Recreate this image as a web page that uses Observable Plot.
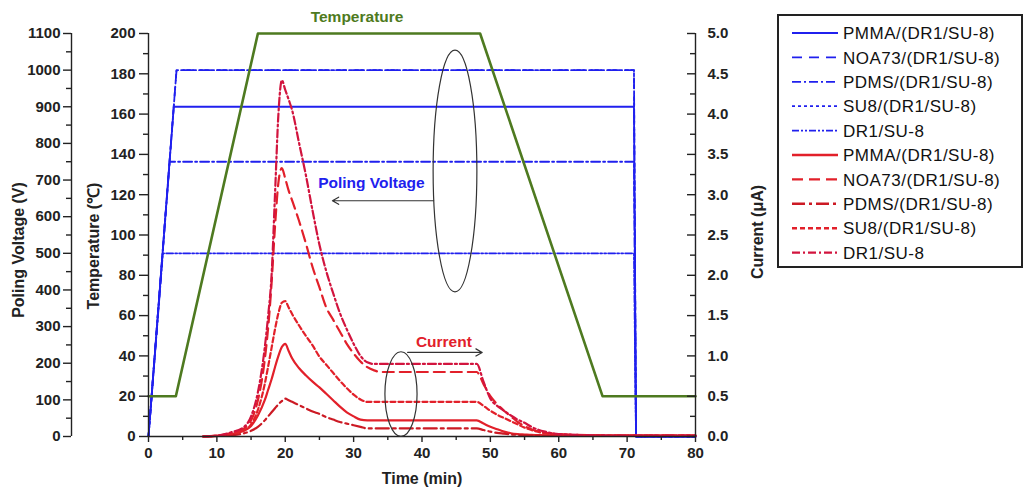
<!DOCTYPE html>
<html>
<head>
<meta charset="utf-8">
<script src="https://cdn.jsdelivr.net/npm/d3@7"></script>
<script src="https://cdn.jsdelivr.net/npm/@observablehq/plot@0.6"></script>
<style>
  html, body { margin: 0; padding: 0; background: #fff; }
  #wrap { position: relative; width: 1027px; height: 496px; font-family: "Liberation Sans", Arial, sans-serif; }
  #chart { position: absolute; left: 0; top: 0; }
  #legend { position: absolute; left: 777px; top: 14px; }
</style>
</head>
<body>
<div id="wrap"><div id="chart"></div><div id="legend"></div></div>
<script>
// ---------- data ----------
const seriesNames = ["PMMA/(DR1/SU-8)", "NOA73/(DR1/SU-8)", "PDMS/(DR1/SU-8)", "SU8/(DR1/SU-8)", "DR1/SU-8"];

// poling voltage (V)
const voltageLevels = [900, 1000, 750, 1000, 500];
const voltageRampEnd = [3.7, 4.1, 3.1, 4.1, 2.1];   // min
const voltageOff = [71, 71.3];                      // min (switch-off)
const timeEnd = 80;

// temperature (°C)
const tempTime = [0, 4, 16, 48.5, 66.4, 80];
const tempValue = [20, 20, 200, 200, 20, 20];

// current (µA)
const currentTime = [8, 10, 12, 14, 15, 16, 17, 17.5, 18, 18.5, 19, 19.5, 20, 20.5, 21, 22, 23, 24, 25, 26, 27, 28, 29, 30, 31, 32, 33, 34, 40, 48, 49, 50, 51, 52, 53, 54, 55, 56, 58, 60, 65, 70, 80];
const currentPMMA = [0, 0.01, 0.03, 0.07, 0.13, 0.26, 0.45, 0.58, 0.71, 0.86, 1.0, 1.11, 1.15, 1.06, 0.97, 0.85, 0.76, 0.68, 0.61, 0.53, 0.45, 0.37, 0.3, 0.25, 0.21, 0.2, 0.2, 0.2, 0.2, 0.2, 0.16, 0.12, 0.09, 0.06, 0.04, 0.03, 0.025, 0.02, 0.015, 0.01, 0.01, 0.01, 0.01];
const currentNOA73 = [0, 0.01, 0.04, 0.1, 0.2, 0.45, 0.95, 1.35, 1.9, 2.6, 3.15, 3.33, 3.2, 3.05, 2.93, 2.68, 2.4, 2.1, 1.85, 1.6, 1.45, 1.3, 1.15, 1.03, 0.93, 0.86, 0.82, 0.8, 0.8, 0.8, 0.65, 0.5, 0.4, 0.32, 0.25, 0.18, 0.13, 0.09, 0.05, 0.03, 0.015, 0.01, 0.01];
const currentPDMS = [0, 0.005, 0.015, 0.04, 0.07, 0.12, 0.2, 0.25, 0.3, 0.35, 0.4, 0.44, 0.47, 0.45, 0.43, 0.39, 0.35, 0.31, 0.28, 0.24, 0.21, 0.18, 0.16, 0.14, 0.12, 0.1, 0.1, 0.1, 0.1, 0.1, 0.08, 0.06, 0.045, 0.035, 0.025, 0.02, 0.015, 0.012, 0.01, 0.01, 0.01, 0.01, 0.01];
const currentSU8 = [0, 0.01, 0.03, 0.08, 0.15, 0.33, 0.65, 0.87, 1.1, 1.33, 1.53, 1.66, 1.68, 1.6, 1.52, 1.38, 1.25, 1.13, 0.99, 0.89, 0.79, 0.69, 0.6, 0.52, 0.46, 0.43, 0.43, 0.43, 0.43, 0.43, 0.38, 0.32, 0.27, 0.23, 0.19, 0.15, 0.11, 0.08, 0.04, 0.02, 0.01, 0.01, 0.01];
const currentDR1 = [0, 0.01, 0.05, 0.12, 0.25, 0.55, 1.1, 1.5, 2.0, 3.0, 4.0, 4.42, 4.3, 4.18, 4.05, 3.65, 3.25, 2.8, 2.38, 2.05, 1.78, 1.53, 1.33, 1.15, 1.0, 0.92, 0.9, 0.9, 0.9, 0.9, 0.68, 0.47, 0.38, 0.32, 0.26, 0.21, 0.17, 0.12, 0.06, 0.03, 0.015, 0.01, 0.01];
const currentSeries = [currentPMMA, currentNOA73, currentPDMS, currentSU8, currentDR1];

// tick labels
const timeTicks = [0, 10, 20, 30, 40, 50, 60, 70, 80];
const timeMinor = [5, 15, 25, 35, 45, 55, 65, 75];
const tempTicks = [0, 20, 40, 60, 80, 100, 120, 140, 160, 180, 200];
const tempMinor = [10, 30, 50, 70, 90, 110, 130, 150, 170, 190];
const voltTicks = [0, 100, 200, 300, 400, 500, 600, 700, 800, 900, 1000, 1100];
const voltMinor = [50, 150, 250, 350, 450, 550, 650, 750, 850, 950, 1050];
const currentTicks = [0, 0.5, 1, 1.5, 2, 2.5, 3, 3.5, 4, 4.5, 5];
const currentMinor = [0.25, 0.75, 1.25, 1.75, 2.25, 2.75, 3.25, 3.75, 4.25, 4.75];

// annotations
const annotLabels = [
  {text: "Temperature", t: 30.5, y: 208, color: "green"},
  {text: "Poling Voltage", t: 32.6, y: 126, color: "blue"},
  {text: "Current", t: 43.2, y: 47, color: "red"}
];
const annotEllipses = [{t: 44.9, y: 131.5, rt: 3.2, ry: 60}, {t: 37.0, y: 20.8, rt: 2.35, ry: 21}];
const annotArrows = [{t1: 41.7, t2: 26.9, y: 117}, {t1: 37.9, t2: 48.8, y: 41.7}];

// ---------- styles ----------
const BLUE = "#2020ee", GREEN = "#4e7a20", RED = "#e2202a", CRIMSON = "#d2143e", DARKRED = "#cc1a24";
const colorOf = {green: GREEN, blue: BLUE, red: RED};
const blueDash = [null, "10,7", "9,3,2,3", "3,3", "7,2,2,2,2,2"];
const redDash = [null, "11,6", "13,4,3,4", "5,3", "8,3,2,3"];
const redColors = [RED, RED, DARKRED, RED, CRIMSON];

// map secondary units onto the temperature scale (0–200)
const V2 = v => v * 200 / 1100;
const C2 = c => c * 40;

const FONT = "Liberation Sans, Arial, sans-serif";
const marks = [];

// blue voltage lines
voltageLevels.forEach((v, i) => {
  const pts = [
    {t: 0, v: 0}, {t: voltageRampEnd[i], v}, {t: voltageOff[0], v},
    {t: voltageOff[1], v: 0}, {t: timeEnd, v: 0}
  ];
  marks.push(Plot.line(pts, {x: "t", y: d => V2(d.v), stroke: BLUE, strokeWidth: 1.8, strokeDasharray: blueDash[i]}));
});

// green temperature
marks.push(Plot.line(tempTime, {x: tempTime, y: tempValue, stroke: GREEN, strokeWidth: 2.6}));

// red current curves
currentSeries.forEach((arr, i) => {
  marks.push(Plot.line(currentTime, {x: currentTime, y: arr.map(C2), stroke: redColors[i], strokeWidth: 2.2, strokeDasharray: redDash[i], curve: "monotone-x"}));
});

// axis lines
marks.push(
  Plot.ruleX([0], {y1: 0, y2: 200, stroke: "#222", strokeWidth: 1.4}),
  Plot.ruleX([80], {y1: 0, y2: 200, stroke: "#222", strokeWidth: 1.4}),
  Plot.ruleX([0], {y1: 0, y2: 200, dx: -77, stroke: "#222", strokeWidth: 1.4}),
  Plot.ruleY([0], {stroke: "#222", strokeWidth: 1.4})
);

const tickText = {fontSize: 15, fontWeight: "bold", fontFamily: FONT, fill: "#222", stroke: "#222", strokeWidth: 1.4, label: null};
// temperature axis
marks.push(Plot.axisY(tempTicks, {...tickText, anchor: "left", tickSize: 9, tickPadding: 4}));
marks.push(Plot.axisY(tempMinor, {anchor: "left", tickSize: 5, fill: "none", stroke: "#222", strokeWidth: 1.4, label: null}));
// voltage axis
marks.push(Plot.axisY(voltTicks.map(V2), {...tickText, anchor: "left", dx: -77, tickSize: 8, tickPadding: 3, tickFormat: d => String(Math.round(d * 1100 / 200))}));
marks.push(Plot.axisY(voltMinor.map(V2), {anchor: "left", dx: -77, tickSize: 5, fill: "none", stroke: "#222", strokeWidth: 1.4, label: null}));
// current axis (ticks point inward)
marks.push(Plot.axisY(currentTicks.map(C2), {anchor: "left", dx: 547, tickSize: 8, fill: "none", stroke: "#222", strokeWidth: 1.4, label: null}));
marks.push(Plot.axisY(currentMinor.map(C2), {anchor: "left", dx: 547, tickSize: 5, fill: "none", stroke: "#222", strokeWidth: 1.4, label: null}));
marks.push(Plot.axisY(currentTicks.map(C2), {...tickText, anchor: "right", tickSize: 0, tickPadding: 12, tickFormat: d => (d / 40).toFixed(1)}));
// time axis
marks.push(Plot.axisX(timeTicks, {...tickText, anchor: "bottom", tickSize: 6, tickPadding: 5}));
marks.push(Plot.axisX(timeMinor, {anchor: "bottom", tickSize: 4, fill: "none", stroke: "#222", strokeWidth: 1.4, label: null}));

// axis titles
const titleOpts = {fontSize: 16, fontWeight: "bold", fontFamily: FONT, fill: "#222", textAnchor: "middle"};
marks.push(
  Plot.text(["Poling Voltage (V)"], {...titleOpts, frameAnchor: "left", dx: -130, dy: 15, rotate: -90}),
  Plot.text(["Temperature (\u2103)"], {...titleOpts, frameAnchor: "left", dx: -55, dy: 11, rotate: -90}),
  Plot.text(["Current (\u03bcA)"], {...titleOpts, frameAnchor: "right", dx: 62, dy: -3, rotate: -90}),
  Plot.text(["Time (min)"], {...titleOpts, frameAnchor: "bottom", dy: 47})
);

// annotations
marks.push(Plot.text(annotLabels, {x: "t", y: "y", text: "text", fill: d => colorOf[d.color], fontSize: 15.5, fontWeight: "bold", fontFamily: FONT}));
marks.push(Plot.arrow(annotArrows, {x1: "t1", x2: "t2", y1: "y", y2: "y", stroke: "#333", strokeWidth: 1.2, headLength: 9}));

const chart = Plot.plot({
  width: 770,
  height: 496,
  marginLeft: 148,
  marginRight: 75,
  marginTop: 33,
  marginBottom: 60,
  x: {domain: [0, 80], label: null},
  y: {domain: [0, 200], label: null},
  style: {background: "transparent", fontFamily: FONT, overflow: "visible"},
  marks
});

// ellipses drawn through the plot's own scales
const sx = chart.scale("x"), sy = chart.scale("y");
const g = d3.select(chart).append("g");
annotEllipses.forEach(e => {
  const cx = sx.apply(e.t), cy = sy.apply(e.y);
  g.append("ellipse")
    .attr("cx", cx).attr("cy", cy)
    .attr("rx", Math.abs(sx.apply(e.t + e.rt) - cx))
    .attr("ry", Math.abs(sy.apply(e.y + e.ry) - cy))
    .attr("fill", "none").attr("stroke", "#333").attr("stroke-width", 1.2);
});
document.getElementById("chart").appendChild(chart);

// ---------- legend ----------
const rowH = 24.4;
const lsvg = d3.select("#legend").append("svg").attr("width", 246).attr("height", 256)
  .style("overflow", "visible");
lsvg.append("rect").attr("x", 1).attr("y", 1).attr("width", 244).attr("height", 252)
  .attr("fill", "#fff").attr("stroke", "#222").attr("stroke-width", 2);
const legendItems = [
  ...seriesNames.map((n, i) => ({name: n, color: BLUE, dash: blueDash[i], w: 1.8})),
  ...seriesNames.map((n, i) => ({name: n, color: redColors[i], dash: redDash[i], w: 2.4}))
];
legendItems.forEach((it, i) => {
  const y = 19 + i * rowH;
  lsvg.append("line").attr("x1", 15).attr("x2", 61).attr("y1", y).attr("y2", y)
    .attr("stroke", it.color).attr("stroke-width", it.w)
    .attr("stroke-dasharray", it.dash);
  lsvg.append("text").attr("x", 66).attr("y", y).attr("dy", "0.36em")
    .attr("font-family", FONT).attr("font-size", 17).attr("letter-spacing", 0.5)
    .attr("fill", "#111").text(it.name);
});
</script>
</body>
</html>
